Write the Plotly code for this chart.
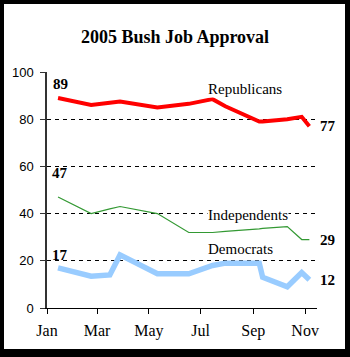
import plotly.graph_objects as go

dates = ["2005-01-14", "2005-02-22", "2005-03-16", "2005-03-28", "2005-05-11",
         "2005-06-17", "2005-07-15", "2005-07-30", "2005-09-08", "2005-09-12",
         "2005-10-11", "2005-10-28", "2005-11-06"]
republicans = [89, 86, 87, 87.5, 85, 86.5, 88.5, 85.5, 79, 79, 80, 81, 77]
independents = [47, 40, 42, 43, 40, 32, 32, 32.5, 33.5, 33.7, 34.5, 29, 29]
democrats = [17, 13.5, 14, 22.5, 14.5, 14.5, 18, 19, 19, 13, 9, 15, 12]

tick_dates = ["2005-01-01", "2005-03-01", "2005-05-01", "2005-07-01", "2005-09-01", "2005-11-01"]
tick_labels = ["Jan", "Mar", "May", "Jul", "Sep", "Nov"]
y_ticks = [0, 20, 40, 60, 80, 100]

series_names = ["Republicans", "Independents", "Democrats"]
series_values = [republicans, independents, democrats]
colors = ["#ff0000", "#339933", "#99ccff"]
widths = [4, 1.2, 5.5]

SERIF = "Liberation Serif, Times New Roman, serif"
SANS = "Liberation Sans, Arial, sans-serif"

W, H = 350, 357
L, R, T, B = 47, 33, 72, 49
PW, PH = W - L - R, H - T - B

def px(x):
    return (x - L) / PW

def py(y):
    return (H - B - y) / PH

fig = go.Figure()
for name, vals, c, w in zip(series_names, series_values, colors, widths):
    fig.add_trace(go.Scatter(x=dates, y=vals, mode="lines", name=name,
                             line=dict(color=c, width=w), cliponaxis=False))

ann = []
label_pos = {"Republicans": ("2005-07-09", 93), "Independents": ("2005-07-09", 39.5),
             "Democrats": ("2005-07-09", 25)}
for name in series_names:
    x, y = label_pos[name]
    ann.append(dict(x=x, y=y, text=name, showarrow=False, xanchor="left", yanchor="middle",
                    font=dict(family=SERIF, size=15, color="black"), bgcolor="white",
                    borderpad=0))
start_y = [95, 57, 22.5]
for vals, sy in zip(series_values, start_y):
    ann.append(dict(x=dates[0], y=sy, text="<b>%d</b>" % vals[0], showarrow=False,
                    xanchor="center", yanchor="middle", xshift=2,
                    font=dict(family=SERIF, size=15, color="black")))
for vals in series_values:
    ann.append(dict(x=dates[-1], y=vals[-1], text="<b>%d</b>" % vals[-1], showarrow=False,
                    xanchor="left", yanchor="middle", xshift=9,
                    font=dict(family=SERIF, size=15, color="black")))

shapes = [
    dict(type="rect", xref="paper", yref="paper", x0=px(0), x1=px(4), y0=py(0), y1=py(H),
         fillcolor="black", line_width=0, layer="above"),
    dict(type="rect", xref="paper", yref="paper", x0=px(0), x1=px(W), y0=py(0), y1=py(4),
         fillcolor="black", line_width=0, layer="above"),
    dict(type="rect", xref="paper", yref="paper", x0=px(345), x1=px(W), y0=py(0), y1=py(H),
         fillcolor="black", line_width=0, layer="above"),
    dict(type="rect", xref="paper", yref="paper", x0=px(0), x1=px(W), y0=py(349), y1=py(H),
         fillcolor="black", line_width=0, layer="above"),
]

fig.update_layout(
    width=W, height=H,
    margin=dict(l=L, r=R, t=T, b=B),
    paper_bgcolor="white", plot_bgcolor="white",
    showlegend=False,
    title=dict(text="<b>2005 Bush Job Approval</b>", x=0.5, xanchor="center",
               y=1 - 37 / H, yanchor="middle",
               font=dict(family=SERIF, size=18, color="black")),
    annotations=ann,
    shapes=shapes,
    xaxis=dict(type="date", range=["2005-01-01", "2005-11-15"],
               tickvals=tick_dates, ticktext=tick_labels,
               ticks="outside", ticklen=5, tickcolor="black",
               showline=True, linecolor="black", linewidth=1,
               showgrid=False, zeroline=False, ticklabelstandoff=3,
               tickfont=dict(family=SERIF, size=16, color="black")),
    yaxis=dict(range=[0, 100], tickvals=y_ticks,
               ticks="outside", ticklen=5, tickcolor="#333",
               showline=True, linecolor="#333", linewidth=1.5,
               showgrid=True, gridcolor="black", gridwidth=1, griddash="4px,4px",
               zeroline=False, ticklabelstandoff=4,
               tickfont=dict(family=SANS, size=13, color="black")),
)

fig.write_html("out.html")
